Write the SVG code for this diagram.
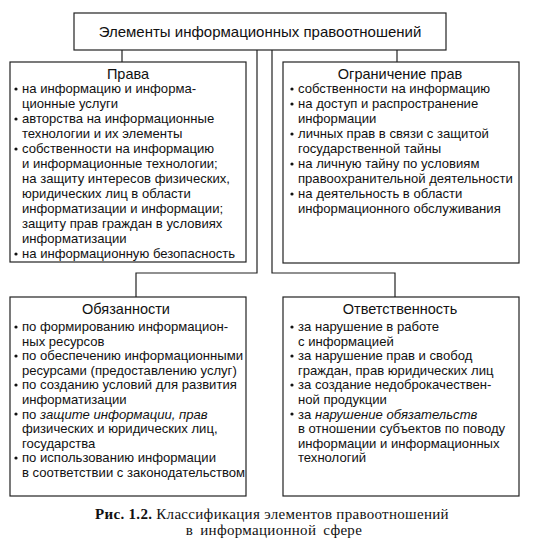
<svg xmlns="http://www.w3.org/2000/svg" width="534" height="544" viewBox="0 0 534 544">
<style>
.box{fill:#fff;stroke:#222;stroke-width:1.2}
.ln{fill:none;stroke:#222;stroke-width:1.2}
.t{font-family:"Liberation Sans",Arial,sans-serif;font-size:13.1px;fill:#111}
.h{font-family:"Liberation Sans",Arial,sans-serif;font-size:14.5px;fill:#111;text-anchor:middle}
.b{fill:#111}
.i{font-style:italic}
.cap{font-family:"Liberation Serif","Times New Roman",serif;font-size:15px;letter-spacing:0.3px;fill:#111;text-anchor:middle}
</style>
<rect width="534" height="544" fill="#fff"/>
<g id="connectors">
<path class="ln" d="M122,50 V62"/>
<path class="ln" d="M397,50 V62"/>
<path class="ln" d="M257,50 V273 H136 V297"/>
<path class="ln" d="M272,50 V273 H395 V297"/>
</g>
<g id="root">
<rect class="box" x="74" y="13" width="372" height="37"/>
<text class="h" x="260" y="37" style="font-size:15px">Элементы информационных правоотношений</text>
</g>
<g id="prava">
<rect class="box" x="10" y="62" width="236" height="200"/>
<text class="h" x="128" y="79">Права</text>
<g class="b"><circle cx="16" cy="89" r="1.6"/><circle cx="16" cy="119" r="1.6"/><circle cx="16" cy="149" r="1.6"/><circle cx="16" cy="254" r="1.6"/></g>
<text class="t" x="22" y="93">на информацию и информа-</text>
<text class="t" x="22" y="108">ционные услуги</text>
<text class="t" x="22" y="123">авторства на информационные</text>
<text class="t" x="22" y="138">технологии и их элементы</text>
<text class="t" x="22" y="153">собственности на информацию</text>
<text class="t" x="22" y="168">и информационные технологии;</text>
<text class="t" x="22" y="183">на защиту интересов физических,</text>
<text class="t" x="22" y="198">юридических лиц в области</text>
<text class="t" x="22" y="213">информатизации и информации;</text>
<text class="t" x="22" y="228">защиту прав граждан в условиях</text>
<text class="t" x="22" y="243">информатизации</text>
<text class="t" x="22" y="258">на информационную безопасность</text>
</g>
<g id="ogranichenie">
<rect class="box" x="283" y="62" width="236" height="201"/>
<text class="h" x="400" y="79">Ограничение прав</text>
<g class="b"><circle cx="292" cy="89" r="1.6"/><circle cx="292" cy="104" r="1.6"/><circle cx="292" cy="134" r="1.6"/><circle cx="292" cy="164" r="1.6"/><circle cx="292" cy="194" r="1.6"/></g>
<text class="t" x="298" y="93">собственности на информацию</text>
<text class="t" x="298" y="108">на доступ и распространение</text>
<text class="t" x="298" y="123">информации</text>
<text class="t" x="298" y="138">личных прав в связи с защитой</text>
<text class="t" x="298" y="153">государственной тайны</text>
<text class="t" x="298" y="168">на личную тайну по условиям</text>
<text class="t" x="298" y="183">правоохранительной деятельности</text>
<text class="t" x="298" y="198">на деятельность в области</text>
<text class="t" x="298" y="213">информационного обслуживания</text>
</g>
<g id="obyazannosti">
<rect class="box" x="10" y="297" width="236" height="199"/>
<text class="h" x="126" y="314">Обязанности</text>
<g class="b"><circle cx="16" cy="327" r="1.6"/><circle cx="16" cy="356" r="1.6"/><circle cx="16" cy="385" r="1.6"/><circle cx="16" cy="414" r="1.6"/><circle cx="16" cy="458" r="1.6"/></g>
<text class="t" x="22" y="331">по формированию информацион-</text>
<text class="t" x="22" y="345.6">ных ресурсов</text>
<text class="t" x="22" y="360.2">по обеспечению информационными</text>
<text class="t" x="22" y="374.8">ресурсами (предоставлению услуг)</text>
<text class="t" x="22" y="389.4">по созданию условий для развития</text>
<text class="t" x="22" y="404">информатизации</text>
<text class="t" x="22" y="418.6">по <tspan class="i">защите информации, прав</tspan></text>
<text class="t" x="22" y="433.2">физических и юридических лиц,</text>
<text class="t" x="22" y="447.8">государства</text>
<text class="t" x="22" y="462.4">по использованию информации</text>
<text class="t" x="22" y="477">в соответствии с законодательством</text>
</g>
<g id="otvetstvennost">
<rect class="box" x="283" y="297" width="236" height="199"/>
<text class="h" x="400" y="314">Ответственность</text>
<g class="b"><circle cx="292" cy="327" r="1.6"/><circle cx="292" cy="356" r="1.6"/><circle cx="292" cy="385" r="1.6"/><circle cx="292" cy="414" r="1.6"/></g>
<text class="t" x="298" y="331">за нарушение в работе</text>
<text class="t" x="298" y="345.6">с информацией</text>
<text class="t" x="298" y="360.2">за нарушение прав и свобод</text>
<text class="t" x="298" y="374.8">граждан, прав юридических лиц</text>
<text class="t" x="298" y="389.4">за создание недоброкачествен-</text>
<text class="t" x="298" y="404">ной продукции</text>
<text class="t" x="298" y="418.6">за <tspan class="i">нарушение обязательств</tspan></text>
<text class="t" x="298" y="433.2">в отношении субъектов по поводу</text>
<text class="t" x="298" y="447.8">информации и информационных</text>
<text class="t" x="298" y="462.4">технологий</text>
</g>
<g id="caption">
<text class="cap" x="272" y="519"><tspan font-weight="bold">Рис. 1.2.</tspan> Классификация элементов правоотношений</text>
<text class="cap" x="274" y="535" style="word-spacing:3px">в информационной сфере</text>
</g>
</svg>
